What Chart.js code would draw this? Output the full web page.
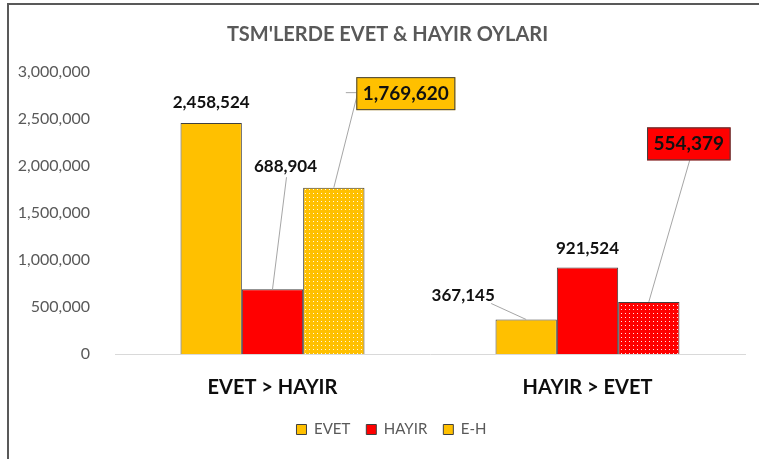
<!DOCTYPE html>
<html>
<head>
<meta charset="utf-8">
<script src="https://cdn.jsdelivr.net/npm/chart.js@4"></script>
<style>
  html, body { margin: 0; padding: 0; background: #fff; }
  #wrap { width: 759px; height: 459px; }
</style>
</head>
<body>
<div id="wrap"><canvas id="tsmChart" width="759" height="459"></canvas></div>
<script>
// Veriler
const categories = ['EVET > HAYIR', 'HAYIR > EVET'];
const evetValues = [2458524, 367145];
const hayirValues = [688904, 921524];
const farkValues = [1769620, 554379];
const yTicks = [0, 500000, 1000000, 1500000, 2000000, 2500000, 3000000];
const legendNames = ['EVET', 'HAYIR', 'E-H'];

const YELLOW = '#FFC000';
const RED = '#FF0000';
const EDGE = '#404040';

// etiket yerleşimi (bar tepesine göre piksel kaydırma)
const labelLayout = [
  [{ dx: 0, dy: -20 }, { dx: -63, dy: -24, leader: [[28, 8]] }],
  [{ dx: 13, dy: -123, leader: [[1, 11]] }, { dx: 0, dy: -19 }],
  [{ dx: 72, dy: -94, box: YELLOW, leader: [[-48, -1], [-60, -1]] },
   { dx: 40, dy: -158, box: RED, leader: [[1, 16]] }]
];

function dots(color) {
  const c = document.createElement('canvas');
  c.width = 4; c.height = 4;
  const g = c.getContext('2d');
  g.fillStyle = color;
  g.fillRect(0, 0, 4, 4);
  g.fillStyle = 'rgba(255,255,255,0.9)';
  g.fillRect(1, 1, 1, 1);
  return g.createPattern(c, 'repeat');
}

const fmt = v => v.toLocaleString('en-US');

const frame = {
  id: 'frame',
  afterLayout(chart) {
    // başlık ve lejant biraz sağda
    chart.titleBlock.left += 9; chart.titleBlock.right += 9;
    chart.legend.left += 13; chart.legend.right += 13;
  },
  beforeDraw(chart) {
    const c = chart.ctx;
    c.save();
    c.fillStyle = '#fff';
    c.fillRect(0, 0, chart.width, chart.height);
    c.fillStyle = '#595959';
    c.fillRect(7, 3, chart.width - 7, 2);
    c.fillRect(7, 3, 2, chart.height - 3);
    c.restore();
  }
};

const valueLabels = {
  id: 'valueLabels',
  afterDatasetsDraw(chart) {
    const c = chart.ctx;
    c.save();
    c.textAlign = 'center';
    c.textBaseline = 'middle';
    chart.data.datasets.forEach((ds, di) => {
      chart.getDatasetMeta(di).data.forEach((bar, i) => {
        const L = labelLayout[di][i];
        const cx = bar.x + L.dx, cy = bar.y + L.dy;
        const text = fmt(ds.data[i]);
        if (L.leader) {
          c.strokeStyle = '#a6a6a6';
          c.lineWidth = 1;
          c.beginPath();
          c.moveTo(bar.x, bar.y);
          L.leader.forEach(p => c.lineTo(cx + p[0], cy + p[1]));
          c.stroke();
        }
        if (L.box) {
          c.font = 'bold 19px Lato';
          const w = c.measureText(text).width + 13;
          c.fillStyle = L.box;
          c.fillRect(cx - w / 2, cy - 16.5, w, 33);
          c.strokeStyle = EDGE;
          c.lineWidth = 1;
          c.strokeRect(cx - w / 2 + 0.5, cy - 16, w - 1, 32);
        } else {
          c.font = 'bold 17px Lato';
        }
        c.fillStyle = '#111';
        c.fillText(text, cx, cy);
      });
    });
    c.restore();
  }
};

const ctx = document.getElementById('tsmChart').getContext('2d');
new Chart(ctx, {
  type: 'bar',
  data: {
    labels: categories,
    datasets: [
      { label: legendNames[0], data: evetValues, backgroundColor: YELLOW },
      { label: legendNames[1], data: hayirValues, backgroundColor: RED },
      { label: legendNames[2], data: farkValues, backgroundColor: [dots(YELLOW), dots(RED)] }
    ]
  },
  options: {
    responsive: false,
    animation: false,
    layout: { padding: { left: 12, right: 14, top: 0, bottom: 12 } },
    datasets: {
      bar: {
        categoryPercentage: 0.584,
        barPercentage: 1,
        borderColor: EDGE,
        borderWidth: 1
      }
    },
    plugins: {
      title: {
        display: true,
        text: "TSM'LERDE EVET & HAYIR OYLARI",
        color: '#595959',
        font: { family: 'Lato', size: 20, weight: 'bold' },
        padding: { top: 23, bottom: 25 }
      },
      legend: {
        position: 'bottom',
        labels: {
          boxWidth: 10,
          boxHeight: 10,
          padding: 16,
          color: '#595959',
          font: { family: 'Lato', size: 15 },
          generateLabels: () => legendNames.map((n, i) => ({
            text: n,
            fillStyle: [YELLOW, RED, YELLOW][i],
            strokeStyle: EDGE,
            lineWidth: 1,
            fontColor: '#595959',
            datasetIndex: i
          }))
        }
      },
      tooltip: { enabled: false }
    },
    scales: {
      x: {
        grid: { display: false },
        border: { display: true, color: '#d9d9d9', width: 1 },
        ticks: {
          color: '#0d0d0d',
          padding: 14,
          font: { family: 'Lato', size: 20, weight: 'bold' }
        },
        afterFit: s => { s.height = 52; }
      },
      y: {
        min: 0,
        max: 3000000,
        grid: { display: false },
        border: { display: false },
        afterBuildTicks: s => { s.ticks = yTicks.map(v => ({ value: v })); },
        ticks: {
          color: '#595959',
          padding: 17,
          font: { family: 'Lato', size: 16 },
          callback: v => fmt(v)
        },
        afterFit: s => { s.width = 103; }
      }
    }
  },
  plugins: [frame, valueLabels]
});
</script>
</body>
</html>
